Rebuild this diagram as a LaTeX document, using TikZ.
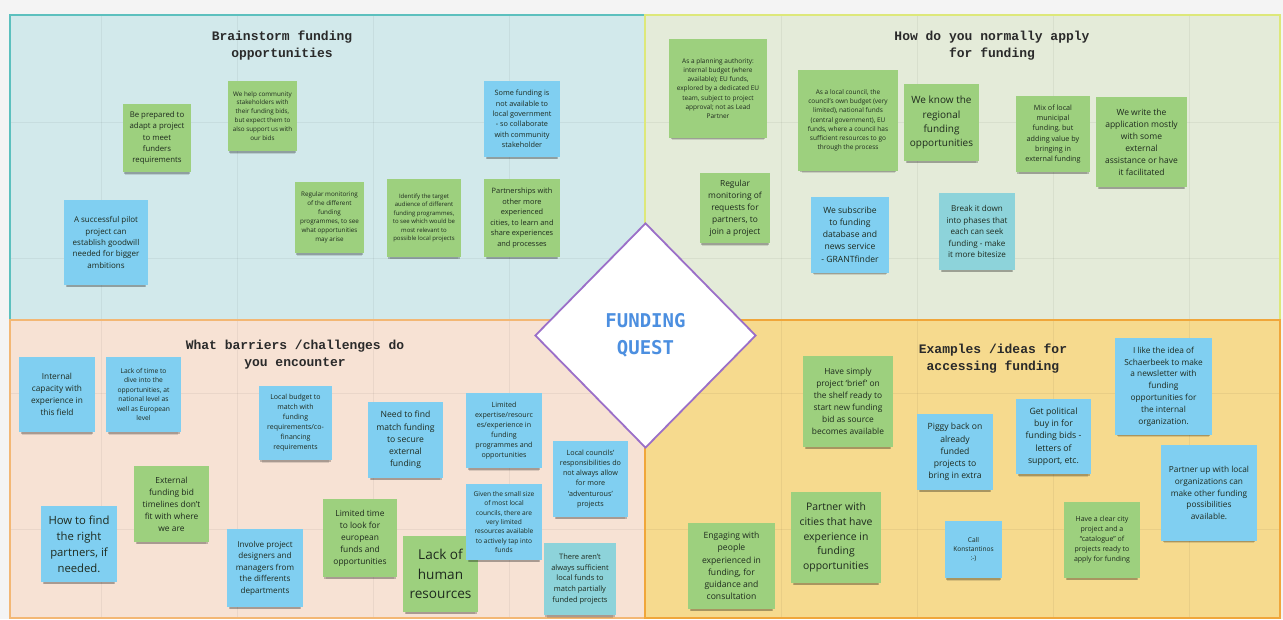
\documentclass[tikz,border=0pt]{standalone}
\usepackage{fontspec}
\setmainfont{Open Sans}
\newfontfamily\titlefont{Liberation Mono}
\newfontfamily\questfont{DejaVu Sans Mono}
\usetikzlibrary{shapes.geometric,shadows}
\definecolor{pagebg}{HTML}{F4F4F4}
\definecolor{qafill}{HTML}{D2E9EB}
\definecolor{qaline}{HTML}{5CC0BE}
\definecolor{qbfill}{HTML}{E4EBD9}
\definecolor{qbline}{HTML}{DDE87A}
\definecolor{qcfill}{HTML}{F7E2D4}
\definecolor{qcline}{HTML}{F3B774}
\definecolor{qdfill}{HTML}{F6DA8E}
\definecolor{qdline}{HTML}{F0A63A}
\definecolor{notegreen}{HTML}{9DD07E}
\definecolor{noteblue}{HTML}{80CFF1}
\definecolor{noteteal}{HTML}{8DD3DA}
\definecolor{notetext}{HTML}{1E2A1E}
\definecolor{titletext}{HTML}{2A2A2A}
\definecolor{questblue}{HTML}{4C8FE0}
\definecolor{questline}{HTML}{9B6FC8}
\newcommand\fz[1]{\fontsize{#1}{\fpeval{1.42*#1}}\selectfont}
\tikzset{
  stk/.style={rectangle, inner sep=0pt, align=center, text=notetext,
    general shadow={shadow xshift=0pt, shadow yshift=-5.5pt, shadow scale=0.93, opacity=0.12, fill=black},
    general shadow={shadow xshift=0pt, shadow yshift=-3.5pt, shadow scale=0.96, opacity=0.22, fill=black}},
  gnote/.style={stk, fill=notegreen},
  bnote/.style={stk, fill=noteblue},
  tnote/.style={stk, fill=noteteal},
  qtitle/.style={align=center, text=titletext, font=\titlefont\bfseries\fontsize{13}{17}\selectfont},
}
\newcommand\sn[8]{\node[#2, minimum width=#5pt, minimum height=#6pt, font=\fz{#7}] (#1) at (#3,#4) {#8};}
\begin{document}
\begin{tikzpicture}[x=1pt,y=-1pt]
\useasboundingbox (0,0) rectangle (1283,619);
\fill[pagebg] (0,0) rectangle (1283,619);
% quadrants
\fill[qafill] (10,15) rectangle (645,320);
\fill[qbfill] (645,15) rectangle (1280,320);
\fill[qcfill] (10,320) rectangle (645,618);
\fill[qdfill] (645,320) rectangle (1280,618);
% faint board grid
\foreach \gx in {101,237,373,509,781,917,1053,1189}
  \draw[black, opacity=0.05, line width=0.8pt] (\gx,16) -- (\gx,617);
\foreach \gy in {122,258,393,529}
  \draw[black, opacity=0.05, line width=0.8pt] (11,\gy) -- (1279,\gy);
\draw[qaline, line width=2pt] (10,15) rectangle (645,320);
\draw[qbline, line width=2pt] (645,15) rectangle (1280,320);
\draw[qcline, line width=2pt] (10,320) rectangle (645,618);
\draw[qdline, line width=2pt] (645,320) rectangle (1280,618);
% titles
\node[qtitle] (ta) at (282,46) {Brainstorm funding\\opportunities};
\node[qtitle] (tb) at (992,46) {How do you normally apply\\for funding};
\node[qtitle] (tc) at (295,355) {What barriers /challenges do\\you encounter};
\node[qtitle] (td) at (993,359) {Examples /ideas for\\accessing funding};
% Q1 notes
\sn{n1}{gnote}{157}{138}{68}{68}{7.8}{Be prepared to\\adapt a project\\to meet\\funders\\requirements}
\sn{n2}{bnote}{106}{242.5}{84}{85}{8}{A successful pilot\\project can\\establish goodwill\\needed for bigger\\ambitions}
\sn{n3}{gnote}{262.5}{116}{69}{70}{6.3}{We help community\\stakeholders with\\their funding bids,\\but expect them to\\also support us with\\our bids}
\sn{n4}{gnote}{329.5}{217.5}{69}{71}{6.3}{Regular monitoring\\of the different\\funding\\programmes, to see\\what opportunities\\may arise}
\sn{n5}{gnote}{424}{218}{74}{78}{6}{Identify the target\\audience of different\\funding programmes,\\to see which would be\\most relevant to\\possible local projects}
\sn{n6}{bnote}{522}{119}{76}{76}{7.3}{Some funding is\\not available to\\local government\\- so collaborate\\with community\\stakeholder}
\sn{n7}{gnote}{522}{218}{76}{78}{7.4}{Partnerships with\\other more\\experienced\\cities, to learn and\\share experiences\\and processes}
% Q2 notes
\sn{n8}{gnote}{718}{88.5}{98}{99}{6.5}{As a planning authority:\\internal budget (where\\available); EU funds,\\explored by a dedicated EU\\team, subject to project\\approval; not as Lead\\Partner}
\sn{n9}{gnote}{848}{120.5}{100}{101}{6.5}{As a local council, the\\council's own budget (very\\limited), national funds\\(central government), EU\\funds, where a council has\\sufficient resources to go\\through the process}
\sn{n10}{gnote}{735}{208}{70}{70}{8.4}{Regular\\monitoring of\\requests for\\partners, to\\join a project}
\sn{n11}{bnote}{850}{234.5}{78}{76}{8.6}{We subscribe\\to funding\\database and\\news service\\- GRANTfinder}
\sn{n12}{gnote}{941.5}{122.5}{75}{77}{10}{We know the\\regional\\funding\\opportunities}
\sn{n13}{gnote}{1053}{134}{74}{76}{7.2}{Mix of local\\municipal\\funding, but\\adding value by\\bringing in\\external funding}
\sn{n14}{gnote}{1141.5}{142}{91}{90}{8.5}{We write the\\application mostly\\with some\\external\\assistance or have\\it facilitated}
\sn{n15}{tnote}{977}{231.5}{76}{77}{8.1}{Break it down\\into phases that\\each can seek\\funding - make\\it more bitesize}
% Q3 notes
\sn{n16}{bnote}{57}{394.5}{76}{75}{8.3}{Internal\\capacity with\\experience in\\this field}
\sn{n17}{bnote}{143.5}{394.5}{75}{75}{6.7}{Lack of time to\\dive into the\\opportunities, at\\national level as\\well as European\\level}
\sn{n18}{gnote}{171.5}{504}{75}{76}{8.4}{External\\funding bid\\timelines don't\\fit with where\\we are}
\sn{n19}{bnote}{79}{544}{76}{76}{11.3}{How to find\\the right\\partners, if\\needed.}
\sn{n20}{bnote}{295.5}{423}{73}{74}{7}{Local budget to\\match with\\funding\\requirements/co-\\financing\\requirements}
\sn{n21}{bnote}{405.5}{440}{75}{76}{8.6}{Need to find\\match funding\\to secure\\external\\funding}
\sn{n22}{bnote}{265}{568}{76}{78}{8.1}{Involve project\\designers and\\managers from\\the differents\\departments}
\sn{n23}{gnote}{360}{538}{74}{78}{8.4}{Limited time\\to look for\\european\\funds and\\opportunities}
\sn{n24}{gnote}{440.5}{574}{75}{76}{13.6}{Lack of\\human\\resources}
\sn{n25}{bnote}{504}{430.5}{76}{75}{7.1}{Limited\\expertise/resourc\\es/experience in\\funding\\programmes and\\opportunities}
\sn{n26}{bnote}{504}{522}{76}{76}{6.6}{Given the small size\\of most local\\councils, there are\\very limited\\resources available\\to actively tap into\\funds}
\sn{n27}{bnote}{590.5}{479}{75}{76}{7.2}{Local councils'\\responsibilities do\\not always allow\\for more\\`adventurous'\\projects}
\sn{n28}{tnote}{580}{579}{72}{72}{7.5}{There aren't\\always sufficient\\local funds to\\match partially\\funded projects}
% Q4 notes
\sn{n29}{gnote}{848}{401.5}{90}{91}{8.4}{Have simply\\project `brief' on\\the shelf ready to\\start new funding\\bid as source\\becomes available}
\sn{n30}{gnote}{836}{537.5}{90}{91}{10.4}{Partner with\\cities that have\\experience in\\funding\\opportunities}
\sn{n31}{gnote}{731.5}{566}{87}{86}{8.6}{Engaging with\\people\\experienced in\\funding, for\\guidance and\\consultation}
\sn{n32}{bnote}{955}{452}{76}{76}{8.6}{Piggy back on\\already\\funded\\projects to\\bring in extra}
\sn{n33}{bnote}{1053.5}{436.5}{75}{75}{8.7}{Get political\\buy in for\\funding bids -\\letters of\\support, etc.}
\sn{n34}{bnote}{1163.5}{386.5}{97}{97}{8.3}{I like the idea of\\Schaerbeek to make\\a newsletter with\\funding\\opportunities for\\the internal\\organization.}
\sn{n35}{bnote}{1209}{493}{96}{96}{8.3}{Partner up with local\\organizations can\\make other funding\\possibilities\\available.}
\sn{n36}{bnote}{973.5}{549.5}{57}{57}{6.6}{Call\\Konstantinos\\:-)}
\sn{n37}{gnote}{1102}{540}{76}{76}{7}{Have a clear city\\project and a\\``catalogue'' of\\projects ready to\\apply for funding}
% centre diamond
\node[diamond, draw=questline, line width=1.8pt, fill=white, minimum width=221pt, minimum height=225pt, inner sep=0pt, align=center, text=questblue, font=\questfont\bfseries\fontsize{19}{27}\selectfont] (quest) at (645.5,335.5) {FUNDING\\QUEST};
\end{tikzpicture}
\end{document}
